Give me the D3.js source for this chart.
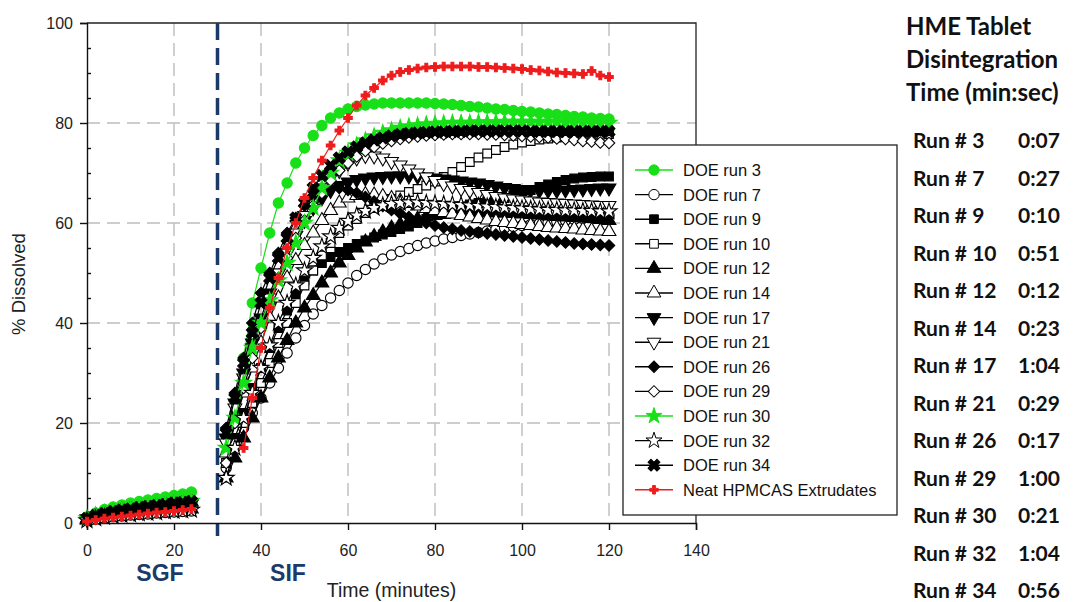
<!DOCTYPE html>
<html>
<head>
<meta charset="utf-8">
<script src="https://cdn.jsdelivr.net/npm/d3@7"></script>
<style>
  body { margin: 0; background: #fff; }
  svg { display: block; }
</style>
</head>
<body>
<svg class="chart" width="1074" height="602"></svg>
<script>
// sampling times (minutes)
var sgfTimes = [0, 2, 4, 6, 8, 10, 12, 14, 16, 18, 20, 22, 24];
var sifTimes = [32, 34, 36, 38, 40, 42, 44, 46, 48, 50,
  52, 54, 56, 58, 60, 62, 64, 66, 68, 70,
  72, 74, 76, 78, 80, 82, 84, 86, 88, 90,
  92, 94, 96, 98, 100, 102, 104, 106, 108, 110,
  112, 114, 116, 118, 120];
var neatSifTimes = sifTimes.slice(2); // neat extrudate sampled from 36 min

// % dissolved, SGF stage
var run3Sgf = [1.2, 2, 2.7, 3.2, 3.6, 4, 4.3, 4.6, 4.9, 5.2, 5.5, 5.8, 6.2];
var run7Sgf = [0.5, 0.8, 1.1, 1.3, 1.4, 1.6, 1.7, 1.8, 2.0, 2.1, 2.2, 2.3, 2.4];
var run9Sgf = [0.7, 1.2, 1.6, 1.9, 2.1, 2.3, 2.5, 2.7, 2.9, 3.0, 3.2, 3.4, 3.5];
var run10Sgf = [0.6, 1.0, 1.4, 1.6, 1.8, 2.0, 2.2, 2.3, 2.5, 2.6, 2.8, 2.9, 3.0];
var run12Sgf = [0.6, 1.0, 1.3, 1.5, 1.7, 1.8, 2.0, 2.2, 2.3, 2.4, 2.6, 2.7, 2.8];
var run14Sgf = [0.8, 1.5, 1.9, 2.2, 2.5, 2.8, 3.0, 3.2, 3.4, 3.7, 3.9, 4.0, 4.2];
var run17Sgf = [0.8, 1.3, 1.7, 2.0, 2.3, 2.5, 2.7, 2.9, 3.1, 3.3, 3.5, 3.6, 3.8];
var run21Sgf = [0.8, 1.4, 1.8, 2.1, 2.4, 2.6, 2.9, 3.1, 3.3, 3.5, 3.7, 3.8, 4.0];
var run26Sgf = [0.9, 1.6, 2.1, 2.4, 2.8, 3.0, 3.3, 3.5, 3.8, 4.0, 4.2, 4.4, 4.6];
var run29Sgf = [0.7, 1.2, 1.5, 1.7, 2.0, 2.2, 2.4, 2.5, 2.7, 2.9, 3.0, 3.2, 3.3];
var run30Sgf = [0.9, 1.5, 2.0, 2.3, 2.6, 2.9, 3.2, 3.4, 3.6, 3.8, 4.0, 4.2, 4.4];
var run32Sgf = [0.5, 0.9, 1.2, 1.4, 1.6, 1.7, 1.9, 2.0, 2.1, 2.3, 2.4, 2.5, 2.6];
var run34Sgf = [0.9, 1.5, 1.9, 2.3, 2.6, 2.8, 3.1, 3.3, 3.5, 3.7, 4.0, 4.1, 4.3];
var neatSgf = [0.3, 0.6, 0.9, 1.1, 1.3, 1.5, 1.7, 1.9, 2.1, 2.2, 2.4, 2.6, 2.8];

// % dissolved, SIF stage
var run3Sif = [14, 22, 33, 44, 51, 58, 64, 68, 72, 75,
  77.5, 79.5, 81, 82, 82.8, 83.3, 83.6, 83.8, 84, 84,
  84, 84, 84, 84, 83.9, 83.8, 83.7, 83.5, 83.3, 83.2,
  83, 82.8, 82.7, 82.5, 82.3, 82.2, 82, 81.8, 81.7, 81.5,
  81.3, 81.2, 81, 80.9, 80.8];
var run7Sif = [11, 15, 19, 22, 25, 28, 31, 34, 37, 39.5,
  41.8, 43.5, 45, 46.5, 48, 49.5, 50.7, 51.8, 52.8, 53.6,
  54.3, 54.9, 55.5, 56, 56.4, 56.8, 57.1, 57.5, 57.8, 58.1,
  58.4, 58.7, 59, 59.3, 59.5, 59.7, 59.9, 60.1, 60.3, 60.5,
  60.7, 60.9, 61.1, 61.3, 61.5];
var run9Sif = [12, 17, 22, 27, 31, 35, 39, 42.5, 46, 48.5,
  50.5, 52, 53.2, 54.2, 55, 55.8, 56.5, 57.1, 57.7, 58.2,
  58.8, 59.3, 60, 60.8, 61.6, 62.2, 62.8, 63.3, 63.7, 64,
  64.3, 64.6, 65, 65.5, 66, 66.6, 67.2, 67.7, 68.2, 68.6,
  68.9, 69.1, 69.2, 69.3, 69.3];
var run10Sif = [12, 16, 20, 24, 28, 32, 36, 40, 44, 47.5,
  50.5, 53.5, 56, 58, 59.5, 60.8, 62, 63, 64, 64.8,
  65.5, 66.2, 66.8, 67.5, 68.3, 69.2, 70.2, 71.2, 72.2, 73.1,
  73.9, 74.6, 75.2, 75.7, 76.1, 76.4, 76.7, 76.9, 77.1, 77.3,
  77.4, 77.5, 77.6, 77.7, 77.8];
var run12Sif = [9, 13, 17, 21, 25, 29, 33, 36.5, 40, 43,
  45.5, 48, 50, 52, 53.5, 55, 56.2, 57.3, 58.2, 59,
  59.7, 60.3, 60.8, 61.2, 61.5, 61.7, 61.9, 62, 62.1, 62.1,
  62.1, 62, 62, 61.9, 61.8, 61.7, 61.6, 61.4, 61.3, 61.2,
  61.1, 61, 60.9, 60.7, 60.5];
var run14Sif = [14, 20, 26, 31, 36, 41, 45, 49, 52.5, 55.5,
  58, 60.5, 62.5, 64, 65, 65.5, 65.7, 65.6, 65.3, 64.9,
  64.4, 63.9, 63.4, 62.9, 62.5, 62.1, 61.8, 61.5, 61.2, 60.9,
  60.6, 60.3, 60.1, 59.9, 59.7, 59.5, 59.3, 59.1, 59, 58.9,
  58.8, 58.6, 58.5, 58.4, 58.3];
var run17Sif = [17, 24, 30, 36, 41, 46, 50, 54, 57.5, 60.5,
  63, 65, 66.5, 67.5, 68.2, 68.7, 69, 69.2, 69.3, 69.4,
  69.4, 69.4, 69.3, 69.2, 69, 68.8, 68.6, 68.4, 68.2, 68,
  67.7, 67.4, 67.1, 66.9, 66.7, 66.6, 66.5, 66.5, 66.5, 66.6,
  66.7, 66.8, 66.9, 67, 67];
var run21Sif = [16, 23, 29, 35, 40, 45, 50, 54, 58, 61.5,
  64.5, 67, 69, 70.5, 72, 73, 73.5, 73.4, 73, 72.3,
  71.6, 70.8, 70, 69.2, 68.5, 67.9, 67.4, 66.9, 66.5, 66.1,
  65.7, 65.3, 65, 64.8, 64.6, 64.4, 64.2, 64.1, 64, 63.9,
  63.8, 63.7, 63.6, 63.5, 63.5];
var run26Sif = [19, 26, 33, 40, 46, 50, 54, 58, 61, 63.5,
  65.5, 66.5, 67, 67, 66.6, 66, 65.2, 64.3, 63.4, 62.6,
  61.9, 61.2, 60.6, 60, 59.5, 59.1, 58.8, 58.5, 58.3, 58.1,
  57.9, 57.7, 57.5, 57.3, 57.1, 56.9, 56.7, 56.5, 56.3, 56.1,
  55.9, 55.8, 55.7, 55.6, 55.5];
var run29Sif = [12, 20, 27, 33, 39, 44, 49, 53, 57, 60.5,
  63.5, 66, 68.5, 70.5, 72, 73.3, 74.4, 75.2, 75.9, 76.4,
  76.8, 77.1, 77.3, 77.5, 77.6, 77.7, 77.8, 77.8, 77.8, 77.8,
  77.7, 77.7, 77.6, 77.5, 77.4, 77.3, 77.2, 77.1, 76.9, 76.8,
  76.6, 76.4, 76.3, 76.1, 76];
var run30Sif = [15, 21, 28, 35, 40, 44.5, 48.5, 52, 56, 60,
  63, 67, 70, 72.5, 74, 75.5, 76.5, 77.3, 78, 78.5,
  79, 79.3, 79.5, 79.7, 79.8, 79.9, 80, 80, 80, 80.1,
  80.1, 80.1, 80.2, 80.2, 80.2, 80.2, 80.2, 80.2, 80.2, 80.1,
  80.1, 80.1, 80, 80, 80];
var run32Sif = [9, 15, 21, 26, 31, 35.5, 40, 44, 47.5, 50.5,
  53, 55.3, 57.3, 59, 60.4, 61.5, 62.4, 63, 63.5, 63.8,
  64, 64.1, 64.1, 64, 63.9, 63.8, 63.7, 63.6, 63.5, 63.4,
  63.3, 63.2, 63.1, 63, 62.9, 62.8, 62.7, 62.6, 62.6, 62.5,
  62.5, 62.4, 62.4, 62.3, 62.3];
var run34Sif = [18, 25, 32, 38, 44, 49, 53, 57, 61, 64,
  67, 69.5, 71.5, 73, 74.2, 75.2, 76, 76.6, 77, 77.4,
  77.7, 77.9, 78, 78.1, 78.2, 78.2, 78.3, 78.3, 78.4, 78.4,
  78.4, 78.4, 78.4, 78.4, 78.4, 78.3, 78.3, 78.3, 78.3, 78.3,
  78.3, 78.3, 78.3, 78.3, 78.3];
var neatSif = [15, 25, 35, 43, 49, 55, 60, 65, 69, 72.5,
  75.5, 78.5, 81, 83.5, 85.5, 87, 88.5, 89.5, 90.2, 90.6,
  90.9, 91.1, 91.2, 91.3, 91.3, 91.3, 91.3, 91.2, 91.2, 91.1,
  91, 90.9, 90.8, 90.6, 90.5, 90.3, 90.1, 90, 89.9, 89.8,
  90.4, 89.5, 89.2];

// side table
var runLabels = ["Run # 3", "Run # 7", "Run # 9", "Run # 10", "Run # 12", "Run # 14", "Run # 17",
  "Run # 21", "Run # 26", "Run # 29", "Run # 30", "Run # 32", "Run # 34"];
var disintTimes = ["0:07", "0:27", "0:10", "0:51", "0:12", "0:23", "1:04",
  "0:29", "0:17", "1:00", "0:21", "1:04", "0:56"];
var tableTitle = ["HME Tablet", "Disintegration", "Time (min:sec)"];

var xTicks = [0, 20, 40, 60, 80, 100, 120, 140];
var yTicks = [0, 20, 40, 60, 80, 100];
var yMinorTicks = [5, 10, 15, 25, 30, 35, 45, 50, 55, 65, 70, 75, 85, 90, 95];

var green = "#18e018", red = "#ee1c1c", navy = "#1b3a6a";

// series: name, data and marker style
var series = [
  {name: "DOE run 3", sgf: run3Sgf, sif: run3Sif, t: sifTimes, shape: "circle", fill: green, stroke: green, line: green},
  {name: "DOE run 7", sgf: run7Sgf, sif: run7Sif, t: sifTimes, shape: "circle", fill: "#fff", stroke: "#000", line: "#000"},
  {name: "DOE run 9", sgf: run9Sgf, sif: run9Sif, t: sifTimes, shape: "square", fill: "#000", stroke: "#000", line: "#000"},
  {name: "DOE run 10", sgf: run10Sgf, sif: run10Sif, t: sifTimes, shape: "square", fill: "#fff", stroke: "#000", line: "#000"},
  {name: "DOE run 12", sgf: run12Sgf, sif: run12Sif, t: sifTimes, shape: "up", fill: "#000", stroke: "#000", line: "#000"},
  {name: "DOE run 14", sgf: run14Sgf, sif: run14Sif, t: sifTimes, shape: "up", fill: "#fff", stroke: "#000", line: "#000"},
  {name: "DOE run 17", sgf: run17Sgf, sif: run17Sif, t: sifTimes, shape: "down", fill: "#000", stroke: "#000", line: "#000"},
  {name: "DOE run 21", sgf: run21Sgf, sif: run21Sif, t: sifTimes, shape: "down", fill: "#fff", stroke: "#000", line: "#000"},
  {name: "DOE run 26", sgf: run26Sgf, sif: run26Sif, t: sifTimes, shape: "diamond", fill: "#000", stroke: "#000", line: "#000"},
  {name: "DOE run 29", sgf: run29Sgf, sif: run29Sif, t: sifTimes, shape: "diamond", fill: "#fff", stroke: "#000", line: "#000"},
  {name: "DOE run 30", sgf: run30Sgf, sif: run30Sif, t: sifTimes, shape: "star", fill: green, stroke: green, line: green},
  {name: "DOE run 32", sgf: run32Sgf, sif: run32Sif, t: sifTimes, shape: "star", fill: "#fff", stroke: "#000", line: "#000"},
  {name: "DOE run 34", sgf: run34Sgf, sif: run34Sif, t: sifTimes, shape: "x", fill: "#000", stroke: "#000", line: "#000"},
  {name: "Neat HPMCAS Extrudates", sgf: neatSgf, sif: neatSif, t: neatSifTimes, shape: "plus", fill: red, stroke: red, line: red}
];

var svg = d3.select(".chart");
// plot box (window.top is reserved, so use own names)
var pLeft = 87, pRight = 696, pTop = 23, pBottom = 523;

var x = d3.scaleLinear().domain([0, 140]).range([pLeft, pRight]);
var y = d3.scaleLinear().domain([0, 100]).range([pBottom, pTop]);

// marker paths
function markerPath(shape) {
  if (shape == "circle") return d3.symbol(d3.symbolCircle, 84)();
  if (shape == "square") return d3.symbol(d3.symbolSquare, 76)();
  if (shape == "up" || shape == "down") return d3.symbol(d3.symbolTriangle, 82)();
  if (shape == "diamond") return d3.symbol(d3.symbolSquare, 66)();
  if (shape == "star") return d3.symbol(d3.symbolStar, 80)();
  if (shape == "x") return d3.symbol(d3.symbolCross, 88)();
  if (shape == "plus") return d3.symbol(d3.symbolCross, 40)();
}
function markerRot(shape) {
  if (shape == "down") return " rotate(180)";
  if (shape == "diamond" || shape == "x") return " rotate(45)";
  return "";
}

//gridlines
var grid = svg.append("g");
grid.selectAll(".vg").data([20, 40, 60, 80, 100, 120]).enter().append("line")
    .attr("x1", x).attr("x2", x).attr("y1", pTop).attr("y2", pBottom)
    .style("stroke", "#bdbdbd").style("stroke-width", 1.4).style("stroke-dasharray", "13,7");
grid.selectAll(".hg").data([20, 40, 60, 80]).enter().append("line")
    .attr("y1", y).attr("y2", y).attr("x1", pLeft).attr("x2", pRight)
    .style("stroke", "#bdbdbd").style("stroke-width", 1.4).style("stroke-dasharray", "13,7");

// top and right frame
svg.append("path")
    .attr("d", "M" + pLeft + "," + pTop + "H" + pRight + "V" + pBottom)
    .style("fill", "none").style("stroke", "#222").style("stroke-width", 1.3);

// SGF / SIF boundary
svg.append("line")
    .attr("x1", x(30)).attr("x2", x(30)).attr("y1", pTop).attr("y2", pBottom + 13)
    .style("stroke", navy).style("stroke-width", 3.5).style("stroke-dasharray", "17,8");

// axes
var xAxis = svg.append("g").attr("transform", "translate(0," + pBottom + ")")
    .call(d3.axisBottom(x).tickValues(xTicks).tickSize(7).tickPadding(15));
var yAxis = svg.append("g").attr("transform", "translate(" + pLeft + ",0)")
    .call(d3.axisLeft(y).tickValues(yTicks).tickSize(7).tickPadding(7));
var yMinor = svg.append("g").attr("transform", "translate(" + pLeft + ",0)")
    .call(d3.axisLeft(y).tickValues(yMinorTicks).tickSize(-4).tickFormat(""));
yMinor.select(".domain").remove();
[xAxis, yAxis, yMinor].forEach(function(a) {
  a.selectAll("path, line").style("stroke", "#111").style("stroke-width", 1.4);
  a.selectAll("text").style("font-family", "Liberation Sans, Arial, sans-serif")
      .style("font-size", "16px").style("fill", "#222");
});

// lines and markers
var line = d3.line().x(function(d) { return x(d[0]); }).y(function(d) { return y(d[1]); });
var plot = svg.append("g");
series.forEach(function(s) {
  var seg1 = sgfTimes.map(function(t, i) { return [t, s.sgf[i]]; });
  var seg2 = s.t.map(function(t, i) { return [t, s.sif[i]]; });
  var g = plot.append("g");
  [seg1, seg2].forEach(function(seg) {
    g.append("path").attr("d", line(seg))
        .style("fill", "none").style("stroke", s.line).style("stroke-width", 1.2);
  });
  g.selectAll(".m").data(seg1.concat(seg2)).enter().append("path")
      .attr("d", markerPath(s.shape))
      .attr("transform", function(d) { return "translate(" + x(d[0]) + "," + y(d[1]) + ")" + markerRot(s.shape); })
      .style("fill", s.fill).style("stroke", s.stroke).style("stroke-width", 1.1);
});

// axis titles
svg.append("text")
    .attr("x", (pLeft + pRight) / 2).attr("y", 597)
    .attr("text-anchor", "middle")
    .style("font-family", "Liberation Sans, Arial, sans-serif").style("font-size", "19.5px").style("fill", "#222")
    .text("Time (minutes)");
svg.append("text")
    .attr("transform", "translate(25,284) rotate(-90)")
    .attr("text-anchor", "middle")
    .style("font-family", "Liberation Sans, Arial, sans-serif").style("font-size", "18.5px").style("fill", "#222")
    .text("% Dissolved");

// stage labels
svg.selectAll(".stage").data([["SGF", 160], ["SIF", 288]]).enter().append("text")
    .attr("x", function(d) { return d[1]; }).attr("y", 581)
    .attr("text-anchor", "middle")
    .style("font-family", "Liberation Sans, Arial, sans-serif").style("font-weight", "bold")
    .style("font-size", "23px").style("fill", navy)
    .text(function(d) { return d[0]; });

// legend
var legend = svg.append("g");
legend.append("rect")
    .attr("x", 623).attr("y", 145).attr("width", 274).attr("height", 370)
    .style("fill", "#fff").style("stroke", "#222").style("stroke-width", 1.3);
var item = legend.selectAll(".item").data(series).enter().append("g")
    .attr("transform", function(d, i) { return "translate(0," + (170 + i * 24.6) + ")"; });
item.append("line").attr("x1", 635).attr("x2", 673)
    .style("stroke", function(d) { return d.line; }).style("stroke-width", 1.4);
item.append("path")
    .attr("d", function(d) { return markerPath(d.shape); })
    .attr("transform", function(d) { return "translate(654,0)" + markerRot(d.shape); })
    .style("fill", function(d) { return d.fill; }).style("stroke", function(d) { return d.stroke; });
item.append("text")
    .attr("x", 683).attr("dy", "0.36em")
    .style("font-family", "Liberation Sans, Arial, sans-serif").style("font-size", "16.5px").style("fill", "#111")
    .text(function(d) { return d.name; });

// disintegration table
var table = svg.append("g").style("font-family", "Lato, Carlito, sans-serif").style("font-weight", "bold").style("fill", "#111");
table.selectAll(".title").data(tableTitle).enter().append("text")
    .attr("x", 906).attr("y", function(d, i) { return 35 + i * 33; })
    .style("font-size", "24px")
    .text(function(d) { return d; });
table.selectAll(".run").data(runLabels).enter().append("text")
    .attr("x", 913).attr("y", function(d, i) { return 148 + i * 37.5; })
    .style("font-size", "21px")
    .text(function(d) { return d; });
table.selectAll(".time").data(disintTimes).enter().append("text")
    .attr("x", 1018).attr("y", function(d, i) { return 148 + i * 37.5; })
    .style("font-size", "21px")
    .text(function(d) { return d; });
</script>
</body>
</html>
